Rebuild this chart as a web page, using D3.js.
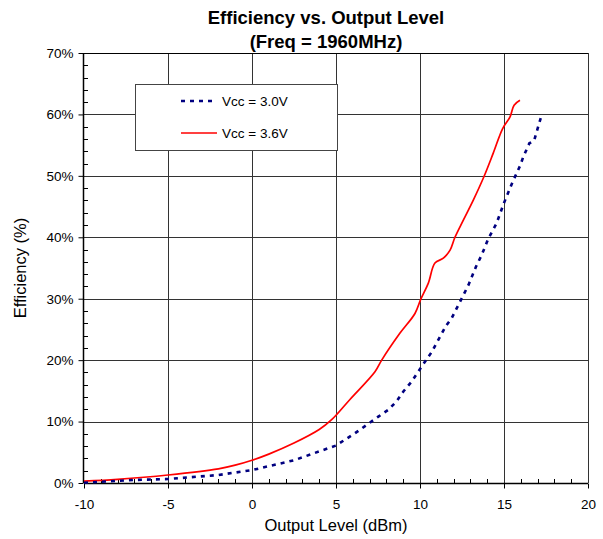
<!DOCTYPE html>
<html><head><meta charset="utf-8">
<script src="https://cdn.jsdelivr.net/npm/d3@7"></script>
<style>body{margin:0;background:#fff}svg{display:block;font-family:"Liberation Sans",Arial,sans-serif}</style>
</head><body><svg id="c" width="603" height="539"></svg>
<script>
const titleLines = ["Efficiency vs. Output Level", "(Freq = 1960MHz)"];
const xTicks = [-10, -5, 0, 5, 10, 15, 20];
const yTicks = [0, 10, 20, 30, 40, 50, 60, 70];
const seriesNames = ["Vcc = 3.0V", "Vcc = 3.6V"];
const v30_x = [-10,-7,-5,-2,0,2.5,5,6.13,7.52,8.11,8.61,9.01,9.5,9.84,10.36,10.69,10.99,11.55,11.88,12.38,12.88,13.33,13.67,14.07,14.56,15.0,15.51,15.95,16.15,16.51,16.79,16.98,17.24];
const v30_y = [0.05,0.5,0.65,1.3,2.1,3.7,6.1,8.1,10.8,11.9,13.3,14.9,16.5,17.9,20,21.3,22.8,25.6,26.8,29.5,32.2,35.2,37.1,39.8,42.3,45.6,49,51.6,53.1,55.3,55.7,57.5,59.9];
const v36_x = [-10,-8,-5,-2,-1,0,1,2.5,4,4.74,5.83,7.32,7.72,8.81,9.7,10.06,10.49,10.89,11.39,11.79,12.08,12.58,13.18,13.81,14.36,14.92,15.36,15.6,15.95];
const v36_y = [0.3,0.6,1.3,2.3,2.9,3.7,4.7,6.5,8.7,10.3,13.6,18.1,20,24.4,27.6,30,32.5,35.8,36.6,37.9,40,42.8,46.1,49.9,53.7,57.7,59.6,61.5,62.3];

const svg = d3.select("#c");
const L = 84, R = 588, T = 53, B = 483;
const x = d3.scaleLinear().domain([-10, 20]).range([L, R]);
const y = d3.scaleLinear().domain([0, 70]).range([B, T]);
const px = v => Math.round(v) + 0.5;

// grid
const g = svg.append("g");
xTicks.slice(1).forEach(t => g.append("line").attr("x1", px(x(t))).attr("x2", px(x(t))).attr("y1", T).attr("y2", B).attr("stroke", "#333"));
yTicks.slice(1).forEach(t => g.append("line").attr("y1", px(y(t))).attr("y2", px(y(t))).attr("x1", L).attr("x2", R).attr("stroke", "#333"));

// minor ticks (inside)
d3.range(-10, 21, 1).filter(v => v % 5 !== 0).forEach(t => g.append("line").attr("x1", px(x(t))).attr("x2", px(x(t))).attr("y1", B).attr("y2", B - 4).attr("stroke", "#000"));
d3.range(0, 71, 2).filter(v => v % 10 !== 0).forEach(t => g.append("line").attr("y1", px(y(t))).attr("y2", px(y(t))).attr("x1", L).attr("x2", L + 4).attr("stroke", "#000"));

// axes
const xAxis = d3.axisBottom(x).tickValues(xTicks).tickSize(5).tickPadding(11).tickFormat(d => String(d));
const yAxis = d3.axisLeft(y).tickValues(yTicks).tickSize(5).tickPadding(5).tickFormat(d => d + "%");
const gx = svg.append("g").attr("transform", `translate(0,${px(B)})`).call(xAxis);
const gy = svg.append("g").attr("transform", `translate(${px(L) - 1},0)`).call(yAxis);
[gx, gy].forEach(a => {
  a.select(".domain").attr("stroke", "#000").attr("stroke-width", 1.5);
  a.selectAll(".tick line").attr("stroke", "#000");
  a.selectAll(".tick text").attr("font-size", 13.5).attr("fill", "#000").attr("font-family", "Liberation Sans, Arial, sans-serif");
});
gx.select(".domain").attr("d", `M${L},0H${R}`);
gy.select(".domain").attr("d", `M0,${B}V${T}`);
svg.append("line").attr("x1", L).attr("x2", R).attr("y1", px(T)).attr("y2", px(T)).attr("stroke", "#000");

// lines
const line = d3.line().x(d => x(d[0])).y(d => y(d[1]));
const d30 = v30_x.map((v, i) => [v, v30_y[i]]);
const d36 = v36_x.map((v, i) => [v, v36_y[i]]);
svg.append("path").datum(d36).attr("d", line.curve(d3.curveCatmullRom)).attr("fill", "none").attr("stroke", "#ff0000").attr("stroke-width", 1.7);
svg.append("path").datum(d30).attr("d", line.curve(d3.curveLinear)).attr("fill", "none").attr("stroke", "#000080").attr("stroke-width", 2.6).attr("stroke-dasharray", "4,5");

// legend
const lg = svg.append("g");
lg.append("rect").attr("x", 135.5).attr("y", 84.5).attr("width", 202).attr("height", 66).attr("fill", "#fff").attr("stroke", "#444").attr("stroke-width", 1);
const ly = [101, 133];
lg.append("line").attr("x1", 181).attr("x2", 217).attr("y1", ly[0]).attr("y2", ly[0]).attr("stroke", "#000080").attr("stroke-width", 2.6).attr("stroke-dasharray", "4,5");
lg.append("line").attr("x1", 181).attr("x2", 217).attr("y1", ly[1]).attr("y2", ly[1]).attr("stroke", "#ff0000").attr("stroke-width", 1.7);
seriesNames.forEach((n, i) => lg.append("text").attr("x", 222).attr("y", ly[i] + 5).attr("font-size", 13.5).text(n));

// titles
titleLines.forEach((t, i) => svg.append("text").attr("x", 326).attr("y", 24 + i * 24).attr("text-anchor", "middle").attr("font-size", 18.5).attr("font-weight", "bold").text(t));
svg.append("text").attr("x", 336).attr("y", 531).attr("text-anchor", "middle").attr("font-size", 16.5).text("Output Level (dBm)");
svg.append("text").attr("transform", "translate(26,268) rotate(-90)").attr("text-anchor", "middle").attr("font-size", 16.5).text("Efficiency (%)");
</script></body></html>
